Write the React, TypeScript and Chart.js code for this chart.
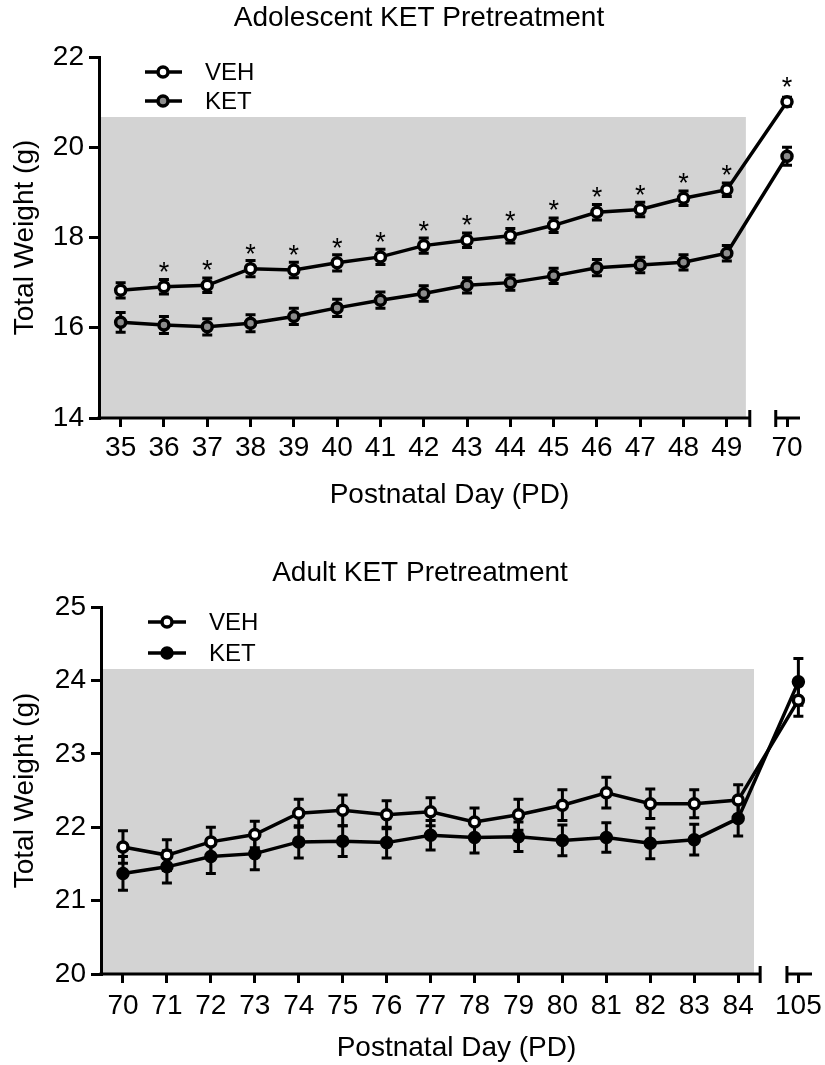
import React, { useEffect, useRef } from 'react';
import { Chart, registerables } from 'chart.js';

Chart.register(...registerables);

const FONT = "'Liberation Sans', Arial, Helvetica, sans-serif";

// ---------- Adolescent KET Pretreatment ----------
const adolDays = [35, 36, 37, 38, 39, 40, 41, 42, 43, 44, 45, 46, 47, 48, 49, 70];
const adolVeh = [16.83, 16.91, 16.94, 17.31, 17.28, 17.44, 17.57, 17.82, 17.94, 18.04, 18.27, 18.56, 18.62, 18.87, 19.06, 21.01];
const adolVehSem = [0.17, 0.16, 0.16, 0.18, 0.17, 0.18, 0.17, 0.17, 0.16, 0.16, 0.16, 0.17, 0.16, 0.16, 0.15, 0.1];
const adolKet = [16.12, 16.06, 16.02, 16.1, 16.25, 16.44, 16.61, 16.76, 16.94, 17.0, 17.15, 17.33, 17.39, 17.45, 17.65, 19.8];
const adolKetSem = [0.22, 0.19, 0.18, 0.19, 0.18, 0.19, 0.18, 0.17, 0.17, 0.17, 0.17, 0.18, 0.17, 0.17, 0.17, 0.2];
const adolStars = [36, 37, 38, 39, 40, 41, 42, 43, 44, 45, 46, 47, 48, 49, 70];
const adolYMin = 14;
const adolYMax = 22;
const adolYStep = 2;
const adolShadeTop = 20.67;

// ---------- Adult KET Pretreatment ----------
const adultDays = [70, 71, 72, 73, 74, 75, 76, 77, 78, 79, 80, 81, 82, 83, 84, 105];
const adultVeh = [21.73, 21.62, 21.8, 21.9, 22.19, 22.23, 22.17, 22.21, 22.07, 22.17, 22.3, 22.47, 22.32, 22.32, 22.37, 23.73];
const adultVehSem = [0.22, 0.21, 0.2, 0.18, 0.19, 0.21, 0.19, 0.19, 0.19, 0.21, 0.21, 0.21, 0.2, 0.19, 0.21, 0.22];
const adultKet = [21.37, 21.46, 21.6, 21.64, 21.8, 21.81, 21.79, 21.89, 21.86, 21.87, 21.82, 21.86, 21.78, 21.83, 22.12, 23.98];
const adultKetSem = [0.23, 0.22, 0.23, 0.22, 0.22, 0.21, 0.21, 0.2, 0.21, 0.2, 0.21, 0.2, 0.21, 0.21, 0.24, 0.32];
const adultStars: number[] = [];
const adultYMin = 20;
const adultYMax = 25;
const adultYStep = 1;
const adultShadeTop = 24.155;

type Cfg = {
  title: string;
  days: number[];
  veh: number[];
  vehSem: number[];
  ket: number[];
  ketSem: number[];
  ketFill: string;
  stars: number[];
  yMin: number;
  yMax: number;
  yStep: number;
  shadeTop: number;
  shadeEnd: number;
  breakEnd: number;
  breakStart: number;
  breakGap: number;
  xMax: number;
  width: number;
  height: number;
  yAxisRight: number;
  padLeft: number;
  padRight: number;
  xAxisHeight: number;
  titlePad: { top: number; bottom: number };
  xTickPad: number;
  xTitlePadBottom: number;
  legend: { y: number[]; lx1: number; lx2: number; cx: number; tx: number };
};

function buildChart(canvas: HTMLCanvasElement, c: Cfg) {
  const nReg = c.days.length - 1;
  const first = c.days[0];
  const pos = (d: number, i: number) => (i < nReg ? d - first : nReg - 1 + c.breakGap);
  const tickPos = c.days.map((d, i) => pos(d, i));
  const tickLabels = c.days.map((d) => String(d));
  const sems = [c.vehSem, c.ketSem];
  const means = [c.veh, c.ket];

  const decor = {
    id: 'decor',
    beforeDraw(chart: any) {
      const { ctx, chartArea, scales } = chart;
      const xs = scales.x;
      const ys = scales.y;
      ctx.save();
      ctx.fillStyle = '#d3d3d3';
      const xr = xs.getPixelForValue(c.shadeEnd);
      const yt = ys.getPixelForValue(c.shadeTop);
      ctx.fillRect(chartArea.left, yt, xr - chartArea.left, chartArea.bottom - yt);
      ctx.restore();
    },
    beforeDatasetsDraw(chart: any) {
      const { ctx, chartArea, scales } = chart;
      const xs = scales.x;
      const ys = scales.y;
      const yb = chartArea.bottom;
      ctx.save();
      ctx.strokeStyle = '#000';
      ctx.lineWidth = 3;
      ctx.lineCap = 'butt';
      const xe = xs.getPixelForValue(c.breakEnd);
      const xsb = xs.getPixelForValue(c.breakStart);
      ctx.beginPath();
      ctx.moveTo(chartArea.left - 1.5, yb);
      ctx.lineTo(xe, yb);
      ctx.moveTo(xe, yb - 8);
      ctx.lineTo(xe, yb + 9);
      ctx.moveTo(xsb, yb);
      ctx.lineTo(chartArea.right, yb);
      ctx.moveTo(xsb, yb - 8);
      ctx.lineTo(xsb, yb + 9);
      ctx.stroke();
      for (let s = 1; s >= 0; s--) {
        for (let i = 0; i < c.days.length; i++) {
          const x = xs.getPixelForValue(tickPos[i]);
          const y1 = ys.getPixelForValue(means[s][i] + sems[s][i]);
          const y2 = ys.getPixelForValue(means[s][i] - sems[s][i]);
          ctx.beginPath();
          ctx.moveTo(x, y1);
          ctx.lineTo(x, y2);
          ctx.moveTo(x - 5, y1);
          ctx.lineTo(x + 5, y1);
          ctx.moveTo(x - 5, y2);
          ctx.lineTo(x + 5, y2);
          ctx.stroke();
        }
      }
      ctx.restore();
    },
    afterDatasetsDraw(chart: any) {
      const { ctx, scales } = chart;
      const xs = scales.x;
      const ys = scales.y;
      ctx.save();
      ctx.fillStyle = '#000';
      ctx.font = `27px ${FONT}`;
      ctx.textAlign = 'center';
      ctx.textBaseline = 'alphabetic';
      c.stars.forEach((d) => {
        const i = c.days.indexOf(d);
        const x = xs.getPixelForValue(tickPos[i]);
        const y = ys.getPixelForValue(c.veh[i]);
        ctx.fillText('*', x, y - 6);
      });
      const items = chart.data.datasets;
      items.forEach((ds: any, k: number) => {
        const y = c.legend.y[k];
        ctx.strokeStyle = '#000';
        ctx.lineWidth = 3.5;
        ctx.beginPath();
        ctx.moveTo(c.legend.lx1, y);
        ctx.lineTo(c.legend.lx2, y);
        ctx.stroke();
        ctx.beginPath();
        ctx.arc(c.legend.cx, y, 5, 0, Math.PI * 2);
        ctx.fillStyle = ds.pointBackgroundColor;
        ctx.fill();
        ctx.stroke();
        ctx.fillStyle = '#000';
        ctx.font = `24px ${FONT}`;
        ctx.textAlign = 'left';
        ctx.textBaseline = 'middle';
        ctx.fillText(ds.label, c.legend.tx, y + 1);
      });
      ctx.restore();
    },
  };

  const mk = (vals: number[]) => c.days.map((d, i) => ({ x: pos(d, i), y: vals[i] }));

  return new Chart(canvas, {
    type: 'line',
    data: {
      datasets: [
        {
          label: 'VEH',
          data: mk(c.veh),
          borderColor: '#000',
          borderWidth: 3.5,
          pointRadius: 5,
          pointBorderWidth: 3.5,
          pointBackgroundColor: '#ffffff',
          pointBorderColor: '#000',
          tension: 0,
          fill: false,
        },
        {
          label: 'KET',
          data: mk(c.ket),
          borderColor: '#000',
          borderWidth: 3.5,
          pointRadius: 5,
          pointBorderWidth: 3.5,
          pointBackgroundColor: c.ketFill,
          pointBorderColor: '#000',
          tension: 0,
          fill: false,
        },
      ],
    },
    options: {
      responsive: false,
      animation: false,
      events: [],
      layout: { autoPadding: false, padding: { left: c.padLeft, right: c.padRight, top: 0, bottom: 0 } },
      plugins: {
        legend: { display: false },
        tooltip: { enabled: false },
        title: {
          display: true,
          text: c.title,
          color: '#000',
          font: { family: FONT, size: 28, weight: 'normal' },
          padding: c.titlePad,
        },
      },
      scales: {
        x: {
          type: 'linear',
          min: -0.5,
          max: c.xMax,
          afterBuildTicks: (s: any) => {
            s.ticks = tickPos.map((v) => ({ value: v }));
          },
          afterFit: (s: any) => {
            s.height = c.xAxisHeight;
            s.paddingLeft = 0;
            s.paddingRight = 0;
          },
          ticks: {
            autoSkip: false,
            maxRotation: 0,
            minRotation: 0,
            padding: c.xTickPad,
            color: '#000',
            font: { family: FONT, size: 28 },
            callback: (_v: any, i: number) => tickLabels[i],
          },
          grid: { drawOnChartArea: false, drawTicks: true, tickLength: 9, lineWidth: 3, color: '#000' },
          border: { display: false },
          title: {
            display: true,
            text: 'Postnatal Day (PD)',
            color: '#000',
            font: { family: FONT, size: 28 },
            padding: { top: 0, bottom: c.xTitlePadBottom },
          },
        },
        y: {
          type: 'linear',
          min: c.yMin,
          max: c.yMax,
          afterFit: (s: any) => {
            s.width = c.yAxisRight - c.padLeft;
            s.paddingTop = 0;
            s.paddingBottom = 0;
          },
          ticks: {
            stepSize: c.yStep,
            padding: 5,
            color: '#000',
            font: { family: FONT, size: 28 },
          },
          grid: { drawOnChartArea: false, drawTicks: true, tickLength: 10, lineWidth: 3, color: '#000' },
          border: { display: true, width: 3, color: '#000' },
          title: {
            display: true,
            text: 'Total Weight (g)',
            color: '#000',
            font: { family: FONT, size: 28 },
            padding: { top: 8.2 - c.padLeft, bottom: 0 },
          },
        },
      },
    },
    plugins: [decor],
  } as any);
}

const adolCfg: Cfg = {
  title: 'Adolescent KET Pretreatment',
  days: adolDays,
  veh: adolVeh,
  vehSem: adolVehSem,
  ket: adolKet,
  ketSem: adolKetSem,
  ketFill: '#8c8c8c',
  stars: adolStars,
  yMin: adolYMin,
  yMax: adolYMax,
  yStep: adolYStep,
  shadeTop: adolShadeTop,
  shadeEnd: 14.44,
  breakEnd: 14.53,
  breakStart: 15.13,
  breakGap: 1.39,
  xMax: 15.69,
  width: 825,
  height: 530,
  yAxisRight: 99,
  padLeft: 38,
  padRight: 25,
  xAxisHeight: 112,
  titlePad: { top: 1, bottom: 22.4 },
  xTickPad: 4,
  xTitlePadBottom: 18,
  legend: { y: [72, 101], lx1: 145, lx2: 182, cx: 163, tx: 205 },
};

const adultCfg: Cfg = {
  title: 'Adult KET Pretreatment',
  days: adultDays,
  veh: adultVeh,
  vehSem: adultVehSem,
  ket: adultKet,
  ketSem: adultKetSem,
  ketFill: '#000000',
  stars: adultStars,
  yMin: adultYMin,
  yMax: adultYMax,
  yStep: adultYStep,
  shadeTop: adultShadeTop,
  shadeEnd: 14.36,
  breakEnd: 14.5,
  breakStart: 15.11,
  breakGap: 1.37,
  xMax: 15.68,
  width: 825,
  height: 535,
  yAxisRight: 101,
  padLeft: 28,
  padRight: 13,
  xAxisHeight: 91,
  titlePad: { top: 26, bottom: 17.4 },
  xTickPad: 6,
  xTitlePadBottom: 0,
  legend: { y: [92, 123], lx1: 148, lx2: 186, cx: 167, tx: 209 },
};

function Panel({ cfg }: { cfg: Cfg }) {
  const ref = useRef<HTMLCanvasElement>(null);
  useEffect(() => {
    if (!ref.current) return;
    const ch = buildChart(ref.current, cfg);
    return () => ch.destroy();
  }, [cfg]);
  return <canvas ref={ref} width={cfg.width} height={cfg.height} style={{ display: 'block', width: cfg.width, height: cfg.height }} />;
}

export default function App() {
  return (
    <div style={{ position: 'absolute', left: 0, top: 0, width: 825, height: 1065, background: '#fff' }}>
      <Panel cfg={adolCfg} />
      <Panel cfg={adultCfg} />
    </div>
  );
}
